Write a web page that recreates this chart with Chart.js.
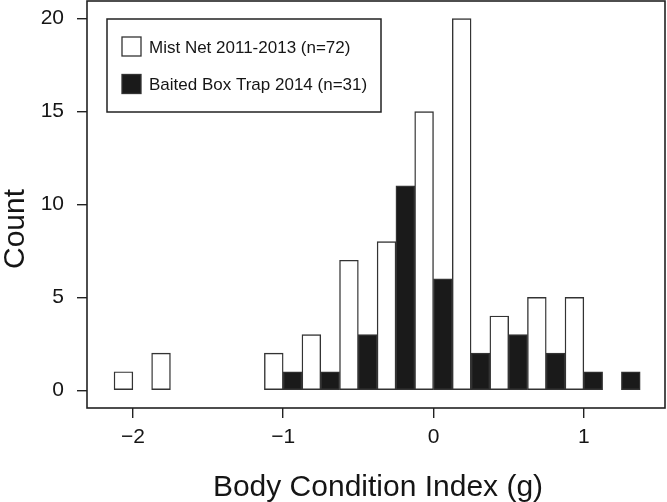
<!DOCTYPE html>
<html>
<head>
<meta charset="utf-8">
<script src="https://cdn.jsdelivr.net/npm/chart.js@4.4.1/dist/chart.umd.min.js"></script>
<style>
  html, body { margin: 0; padding: 0; background: #fff; }
  #wrap { width: 667px; height: 502px; }
</style>
</head>
<body>
<div id="wrap"><canvas id="histChart"></canvas></div>
<script>
// histogram bins (g), width 0.25, labelled by centre
const binCenters = [-2.0, -1.75, -1.5, -1.25, -1.0, -0.75, -0.5, -0.25, 0, 0.25, 0.5, 0.75, 1.0, 1.25];
const mistNet = [1, 2, 0, 0, 2, 3, 7, 8, 15, 20, 4, 5, 5, 0];
const boxTrap = [0, 0, 0, 0, 1, 1, 3, 11, 6, 2, 3, 2, 1, 1];
const seriesLabels = ['Mist Net 2011-2013 (n=72)', 'Baited Box Trap 2014 (n=31)'];
const xTicks = [-2, -1, 0, 1];
const yTicks = [0, 5, 10, 15, 20];

const FONT = '"Liberation Sans", Arial, Helvetica, sans-serif';
const INK = '#151515';

// zero counts are not drawn
function toPoints(counts) {
    return binCenters.map((x, i) => ({ x: x, y: counts[i] === 0 ? null : counts[i] }));
}

// box round the plot, legend and axis titles (R style)
const framePlugin = {
    id: 'frame',
    afterDraw(chart) {
        const ctx = chart.ctx;
        const a = chart.chartArea;
        ctx.save();
        ctx.strokeStyle = '#222';
        ctx.lineWidth = 1.6;
        ctx.strokeRect(a.left, a.top, a.right - a.left, a.bottom - a.top);

        // legend
        const lx = a.left + 20, ly = a.top + 18, lw = 274, lh = 93;
        ctx.lineWidth = 1.5;
        ctx.strokeRect(lx, ly, lw, lh);
        ctx.font = '17px ' + FONT;
        ctx.textBaseline = 'middle';
        ctx.textAlign = 'left';
        chart.data.datasets.forEach((ds, i) => {
            const cy = ly + 27.5 + i * 37.5;
            ctx.fillStyle = ds.backgroundColor;
            ctx.fillRect(lx + 15, cy - 9.5, 19, 19);
            ctx.strokeStyle = ds.borderColor;
            ctx.lineWidth = 1.3;
            ctx.strokeRect(lx + 15, cy - 9.5, 19, 19);
            ctx.fillStyle = INK;
            ctx.fillText(ds.label, lx + 42, cy + 1.5);
        });

        // axis titles
        ctx.fillStyle = INK;
        ctx.font = '30px ' + FONT;
        ctx.textAlign = 'center';
        ctx.textBaseline = 'alphabetic';
        ctx.fillText('Body Condition Index (g)', (a.left + a.right) / 2 + 2, 496);
        ctx.translate(24, 229);
        ctx.rotate(-Math.PI / 2);
        ctx.fillText('Count', 0, 0);
        ctx.restore();
    }
};

const ctx = document.getElementById('histChart').getContext('2d');
const histChart = new Chart(ctx, {
    type: 'bar',
    data: {
        datasets: [
            {
                label: seriesLabels[0],
                data: toPoints(mistNet),
                backgroundColor: '#ffffff',
                borderColor: '#333333',
                borderWidth: 1.4,
                borderSkipped: false
            },
            {
                label: seriesLabels[1],
                data: toPoints(boxTrap),
                backgroundColor: '#1a1a1a',
                borderColor: '#333333',
                borderWidth: 1.4,
                borderSkipped: false
            }
        ]
    },
    options: {
        responsive: true,
        maintainAspectRatio: false,
        animation: false,
        layout: { padding: { top: 1, right: 2, left: 0, bottom: 0 } },
        datasets: {
            bar: { barPercentage: 1, categoryPercentage: 1 }
        },
        plugins: {
            legend: { display: false },
            tooltip: { enabled: false }
        },
        scales: {
            x: {
                type: 'linear',
                min: -2.305,
                max: 1.54,
                offset: false,
                afterBuildTicks: s => { s.ticks = xTicks.map(v => ({ value: v })); },
                afterFit: s => { s.height = 94; s.paddingLeft = 0; s.paddingRight = 0; },
                grid: { display: true, offset: false, drawOnChartArea: false, drawTicks: true, tickLength: 10, color: '#222', lineWidth: 1.4 },
                border: { display: false },
                ticks: {
                    autoSkip: false,
                    maxRotation: 0,
                    padding: 7,
                    color: INK,
                    font: { family: FONT, size: 21 },
                    callback: v => (v < 0 ? '\u2212' + Math.abs(v) : String(v))
                }
            },
            y: {
                min: -0.95,
                max: 20.95,
                afterBuildTicks: s => { s.ticks = yTicks.map(v => ({ value: v })); },
                afterFit: s => { s.width = 87; s.paddingTop = 0; s.paddingBottom = 0; },
                grid: { display: true, drawOnChartArea: false, drawTicks: true, tickLength: 10, color: '#222', lineWidth: 1.4 },
                border: { display: false },
                ticks: {
                    padding: 13,
                    color: INK,
                    font: { family: FONT, size: 21 }
                }
            }
        }
    },
    plugins: [framePlugin]
});
</script>
</body>
</html>
